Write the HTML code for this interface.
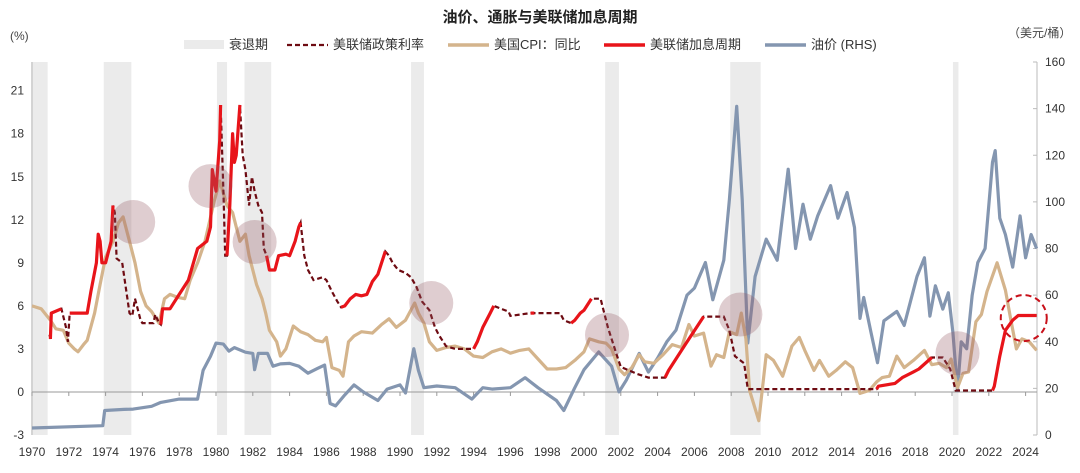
<!DOCTYPE html>
<html><head><meta charset="utf-8">
<style>
html,body{margin:0;padding:0;background:#fff;}
body{width:1080px;height:468px;overflow:hidden;font-family:"Liberation Sans","Noto Sans CJK SC",sans-serif;}
svg text{font-family:"Liberation Sans","Noto Sans CJK SC",sans-serif;}
</style></head>
<body>
<svg id="chart" width="1080" height="468" xmlns="http://www.w3.org/2000/svg">
<text x="540" y="22" text-anchor="middle" font-size="15" font-weight="bold" fill="#222">油价、通胀与美联储加息周期</text>
<text x="10" y="40" font-size="12" fill="#444">(%)</text>
<text x="1008" y="37" font-size="12" fill="#444">（美元/桶）</text>
<g>
  <g><rect x="184" y="40" width="40" height="9" fill="#ebebeb"/><text x="229" y="49" font-size="13" fill="#333">衰退期</text></g>
  <g><line x1="287" y1="45" x2="328" y2="45" stroke="#6e0b12" stroke-width="2.2" stroke-dasharray="5,3"/><text x="333" y="49" font-size="13" fill="#333">美联储政策利率</text></g>
  <g><line x1="448" y1="45" x2="489" y2="45" stroke="#d4b48c" stroke-width="3.5"/><text x="494" y="49" font-size="13" fill="#333">美国CPI：同比</text></g>
  <g><line x1="604" y1="45" x2="645" y2="45" stroke="#e8141a" stroke-width="3.5"/><text x="650" y="49" font-size="13" fill="#333">美联储加息周期</text></g>
  <g><line x1="765" y1="45" x2="806" y2="45" stroke="#8496b0" stroke-width="3.5"/><text x="811" y="49" font-size="13" fill="#333">油价 (RHS)</text></g>
</g>
<g id="plot"></g>
</svg>
<script>
const recessions=[[1969.95,1970.85],[1973.9,1975.4],[1980.05,1980.6],[1981.55,1983.0],[1990.6,1991.3],[2001.15,2001.9],[2007.95,2009.6],[2020.05,2020.35]];
const fedYears=[1970.95,1971.0,1971.05,1971.6,1971.85,1971.95,1972.05,1973.0,1973.2,1973.5,1973.6,1973.7,1973.8,1974.0,1974.3,1974.4,1974.5,1974.6,1974.9,1975.3,1975.45,1975.6,1975.9,1976.0,1976.6,1976.7,1976.9,1977.0,1977.1,1977.5,1978.0,1978.5,1979.0,1979.5,1979.7,1979.8,1980.0,1980.2,1980.25,1980.4,1980.5,1980.6,1980.75,1980.9,1981.0,1981.1,1981.3,1981.45,1981.6,1981.8,1981.95,1982.1,1982.3,1982.5,1982.6,1982.75,1982.9,1983.2,1983.4,1983.8,1984.0,1984.3,1984.5,1984.6,1984.8,1985.0,1985.3,1985.8,1986.0,1986.3,1986.6,1986.8,1987.0,1987.3,1987.6,1987.9,1988.2,1988.5,1988.8,1989.0,1989.2,1989.4,1989.6,1989.9,1990.3,1990.6,1990.9,1991.2,1991.6,1991.9,1992.1,1992.5,1993.0,1994.0,1994.2,1994.5,1994.9,1995.1,1995.5,1995.9,1996.0,1997.1,1997.3,1998.7,1998.9,1999.3,1999.5,1999.8,2000.0,2000.4,2000.9,2001.0,2001.3,2001.8,2002.0,2002.9,2003.5,2004.4,2004.6,2005.5,2006.5,2007.6,2007.9,2008.2,2008.7,2008.9,2015.9,2016.0,2016.9,2017.3,2017.9,2018.2,2018.9,2019.5,2019.9,2020.2,2022.2,2022.3,2022.6,2022.9,2023.3,2023.6,2024.6];
const fedValues=[4.0,3.7,5.5,5.8,4.5,3.5,5.5,5.5,7,9,11,10.5,9,9,10.5,13,12.5,9.3,9,5.5,5.3,6.5,5.0,4.8,4.8,5.4,4.8,4.7,5.8,5.8,6.8,7.8,10,10.5,11.5,15.5,14,17.5,20,14,9.5,9.5,13,18,16,16.5,20,16.5,15.5,13,15,14,13,12.5,10,9.5,8.5,8.5,9.5,9.6,9.5,10.5,11.5,11.8,9.5,8.5,7.8,8,7.8,7,6.3,5.9,6,6.5,6.8,6.7,6.8,7.7,8.2,9,9.8,9.5,9,8.5,8.3,8,7.3,6.3,5.7,4.5,4,3.2,3.0,3.0,3.5,4.5,5.5,6.0,5.8,5.6,5.3,5.5,5.5,5.5,5.0,4.8,5.0,5.5,5.7,6.5,6.5,6.0,4.5,2.5,1.75,1.25,1.0,1.0,1.5,3.3,5.25,5.25,4.3,2.5,2.0,0.2,0.2,0.4,0.6,1.0,1.4,1.6,2.4,2.4,1.6,0.1,0.1,0.4,2.5,4.3,5.0,5.33,5.33];
const hikeCycles=[[1971.0,1971.6],[1972.05,1974.45],[1977.0,1980.3],[1980.6,1981.35],[1982.75,1984.65],[1986.8,1989.25],[1994.0,1995.1],[1997.05,1997.35],[1999.3,2000.4],[2004.4,2006.5],[2015.9,2018.9],[2022.2,2024.6]];
const cpiYears=[1970.0,1970.5,1971.0,1971.3,1971.7,1972.0,1972.3,1972.5,1972.8,1973.0,1973.4,1973.7,1974.0,1974.4,1974.7,1974.95,1975.3,1975.6,1975.9,1976.2,1976.5,1976.9,1977.2,1977.5,1977.9,1978.3,1978.6,1979.0,1979.4,1979.9,1980.2,1980.6,1980.9,1981.3,1981.6,1981.8,1982.2,1982.5,1982.7,1982.9,1983.3,1983.5,1983.8,1984.2,1984.6,1985.0,1985.4,1985.8,1986.0,1986.3,1986.7,1986.9,1987.2,1987.5,1987.9,1988.5,1989.0,1989.4,1989.8,1990.3,1990.8,1991.0,1991.3,1991.6,1992.0,1992.5,1993.0,1993.5,1994.0,1994.5,1995.0,1995.5,1996.0,1996.5,1997.0,1997.5,1998.0,1998.5,1999.0,1999.5,2000.0,2000.3,2000.8,2001.2,2001.5,2001.9,2002.2,2002.6,2003.0,2003.3,2003.8,2004.3,2004.8,2005.3,2005.7,2006.0,2006.5,2006.9,2007.2,2007.6,2007.9,2008.3,2008.55,2008.8,2009.0,2009.5,2009.9,2010.3,2010.8,2011.3,2011.7,2012.0,2012.5,2012.8,2013.3,2013.7,2014.2,2014.6,2015.0,2015.5,2015.9,2016.2,2016.6,2017.0,2017.4,2017.9,2018.5,2018.9,2019.3,2019.7,2019.95,2020.3,2020.6,2020.9,2021.3,2021.6,2021.9,2022.45,2022.9,2023.2,2023.5,2023.8,2024.2,2024.6];
const cpiValues=[6.0,5.8,5.0,4.4,4.3,3.4,3.0,2.8,3.3,3.6,5.5,7.5,9.4,10.5,11.8,12.2,10.5,9,7.0,6.0,5.6,4.8,6.5,6.8,6.6,6.5,7.8,9.0,10.5,13.3,14.7,13,12.5,10.5,11,9.5,7.5,6.5,5.5,4.3,3.5,2.5,3.0,4.6,4.2,4.0,3.6,3.5,3.8,1.7,1.5,1.1,3.5,3.9,4.2,4.1,4.7,5.1,4.5,5.0,6.2,5.5,4.8,3.5,2.9,3.1,3.2,3.0,2.5,2.4,2.8,3.0,2.7,2.9,3.0,2.3,1.6,1.6,1.7,2.2,2.8,3.7,3.5,3.4,3.0,1.6,1.2,1.7,2.6,2.1,2.0,2.6,3.3,3.1,4.7,3.9,4.1,1.8,2.6,2.4,4.2,4.0,5.5,3.7,0.1,-2.0,2.6,2.2,1.1,3.2,3.8,2.9,1.5,2.2,1.1,1.5,2.1,1.7,-0.1,0.1,0.7,1.0,1.1,2.5,1.7,2.2,2.9,1.9,2.0,1.7,2.3,0.3,1.3,1.4,4.9,5.4,7.0,9.0,7.1,5.0,3.0,3.7,3.5,2.9];
const oilYears=[1970.0,1973.85,1973.95,1975.0,1975.5,1976.5,1977.0,1978.0,1979.0,1979.3,1979.7,1980.0,1980.4,1980.7,1981.0,1981.6,1982.0,1982.1,1982.3,1982.8,1983.1,1983.5,1984.0,1984.5,1985.0,1985.5,1985.9,1986.2,1986.5,1987.0,1987.5,1988.0,1988.8,1989.3,1990.0,1990.3,1990.75,1991.0,1991.3,1992.0,1993.0,1993.9,1994.5,1995.0,1996.0,1996.8,1997.5,1998.5,1998.9,1999.5,2000.0,2000.8,2001.5,2001.9,2002.3,2003.0,2003.5,2004.0,2004.5,2005.0,2005.6,2006.0,2006.6,2007.0,2007.6,2007.9,2008.3,2008.6,2008.9,2009.3,2009.9,2010.5,2011.1,2011.5,2011.9,2012.3,2012.7,2013.4,2013.8,2014.3,2014.7,2015.0,2015.2,2015.6,2015.95,2016.3,2017.0,2017.4,2018.1,2018.5,2018.8,2019.1,2019.5,2019.8,2020.05,2020.3,2020.5,2020.8,2021.1,2021.4,2021.8,2022.2,2022.35,2022.6,2022.9,2023.3,2023.7,2024.0,2024.3,2024.6];
const oilValues=[3,4,10.5,11,11.1,12.3,14,15.4,15.4,27.7,33.8,39.4,39,36,37.5,35.5,35,28,35,35,29.5,30.5,30.7,29.5,26.5,28.5,30,13.5,12.5,17.2,21.5,18.5,14.8,19.7,21.5,18,37,27.7,20.3,21,20.3,15.4,20.3,19.7,20.3,24.6,20.3,14.8,10.5,20.3,28,35.6,29.5,18.5,23.5,35,27,33,40,45,60,63,74,58,75,101,141,101,39.5,68,84,75,114,80,99,84,94,107,93,104,89,50,59,44,31,49,53,47,68,76,51,64,54,61,44,19,40,37,60,74,80,117,122,93,86,72,94,76,86,80];
const circles=[[1975.5,11.85],[1979.7,14.35],[1982.1,10.45],[1991.7,6.2],[2001.25,3.97],[2008.5,5.4],[2020.3,2.7]];
const dashedCircle=[2023.9,5.15];
const xTicks=[1970,1972,1974,1976,1978,1980,1982,1984,1986,1988,1990,1992,1994,1996,1998,2000,2002,2004,2006,2008,2010,2012,2014,2016,2018,2020,2022,2024];
const leftTicks=[-3,0,3,6,9,12,15,18,21];
const rightTicks=[0,20,40,60,80,100,120,140,160];

const X0=32,X1=1037,Y0=435,Y1=62;
const xS=y=>X0+(y-1970)*18.4;
const yL=v=>Y0-(v+3)/26*(Y0-Y1);
const yR=v=>Y0-v/160*(Y0-Y1);
const NS='http://www.w3.org/2000/svg';
const plot=document.getElementById('plot');
function mk(tag,attrs){const e=document.createElementNS(NS,tag);for(const k in attrs)e.setAttribute(k,attrs[k]);plot.appendChild(e);return e;}
function pathD(xs,ys,f){return xs.map((x,i)=>(i?'L':'M')+xS(x).toFixed(1)+','+f(ys[i]).toFixed(1)).join('');}

recessions.forEach(r=>{
  const e=mk('rect',{x:xS(r[0]),y:Y1,width:xS(r[1])-xS(r[0]),height:Y0-Y1,fill:'#ebebeb'});
  
  
});
let e=mk('line',{x1:X0,y1:Y1,x2:X0,y2:Y0,stroke:'#bbb','stroke-width':1});


e=mk('line',{x1:X1,y1:Y1,x2:X1,y2:Y0,stroke:'#bbb','stroke-width':1});


e=mk('line',{x1:X0,y1:yL(0),x2:X1,y2:yL(0),stroke:'#999','stroke-width':1});


xTicks.forEach(t=>{
  let k=mk('line',{x1:xS(t),y1:yL(0),x2:xS(t),y2:yL(0)+4,stroke:'#999'});
  
  
  let l=mk('text',{x:xS(t),y:456,'text-anchor':'middle','font-size':12,fill:'#333'});
  l.textContent=t;
  
  
});
leftTicks.forEach(t=>{
  let l=mk('text',{x:24,y:yL(t)+4,'text-anchor':'end','font-size':12,fill:'#333'});
  l.textContent=t;
  
  
});
rightTicks.forEach(t=>{
  let k=mk('line',{x1:X1-4,y1:yR(t),x2:X1,y2:yR(t),stroke:'#bbb'});
  
  
  let l=mk('text',{x:1045,y:yR(t)+4,'font-size':12,fill:'#333'});
  l.textContent=t;
  
  
});
e=mk('path',{d:pathD(oilYears,oilValues,yR),fill:'none',stroke:'#8496b0','stroke-width':3.2,'stroke-linejoin':'round'});


e=mk('path',{d:pathD(cpiYears,cpiValues,yL),fill:'none',stroke:'#d4b48c','stroke-width':3.2,'stroke-linejoin':'round'});


e=mk('path',{d:pathD(fedYears,fedValues,yL),fill:'none',stroke:'#6e0b12','stroke-width':2.2,'stroke-dasharray':'5,3'});


hikeCycles.forEach(c=>{
  const xs=[],ys=[];
  fedYears.forEach((y,i)=>{if(y>=c[0]-1e-6&&y<=c[1]+1e-6){xs.push(y);ys.push(fedValues[i]);}});
  if(xs.length<2)return;
  const p=mk('path',{d:pathD(xs,ys,yL),fill:'none',stroke:'#e8141a','stroke-width':3.2,'stroke-linejoin':'round'});
  
  
});
circles.forEach(c=>{
  const k=mk('circle',{cx:xS(c[0]),cy:yL(c[1]),r:22,fill:'rgba(150,90,100,0.3)'});
  
  
});
e=mk('circle',{cx:xS(dashedCircle[0]),cy:yL(dashedCircle[1]),r:23,fill:'none',stroke:'#c8101a','stroke-width':2,'stroke-dasharray':'6,4'});


</script>
</body></html>
